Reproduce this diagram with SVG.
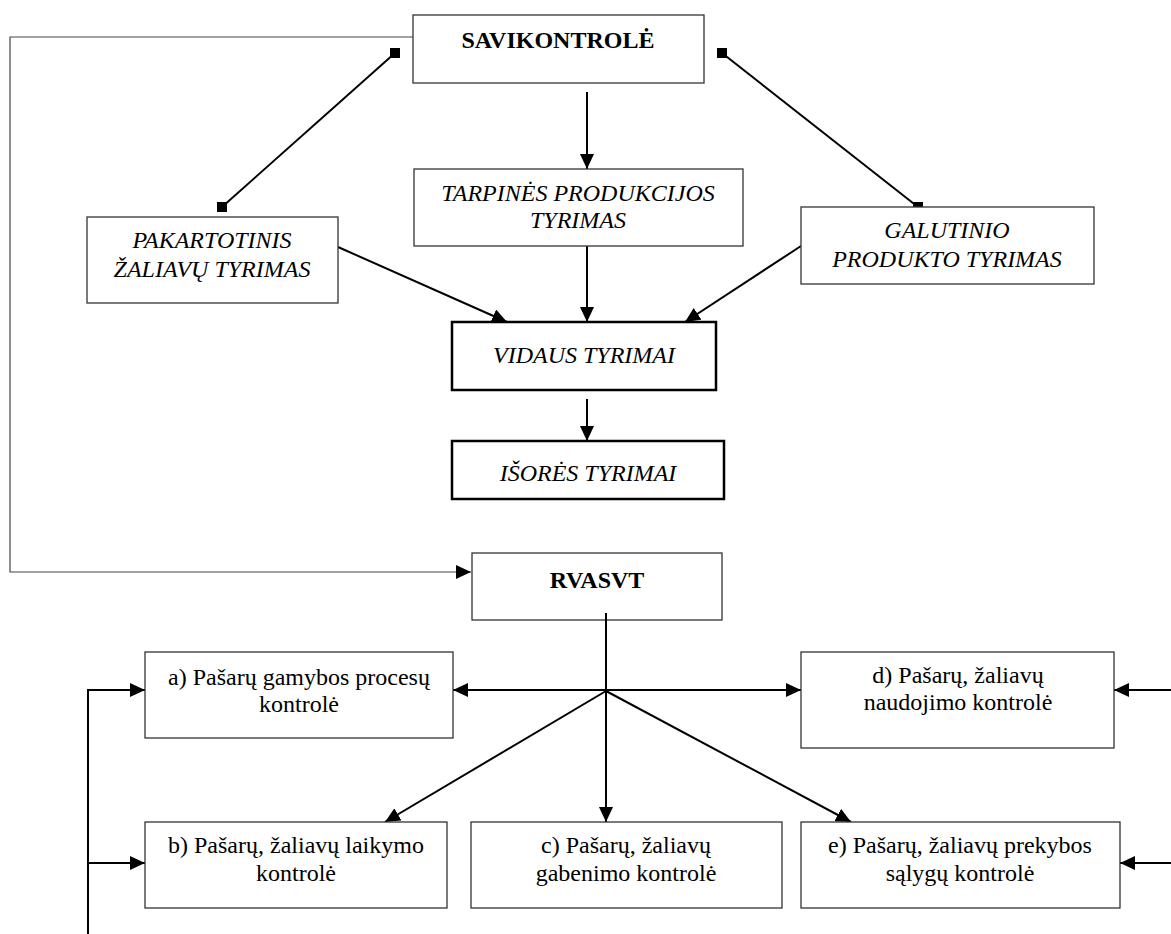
<svg xmlns="http://www.w3.org/2000/svg" width="1171" height="934" viewBox="0 0 1171 934">
<style>
.box{fill:#fff;stroke:#333;stroke-width:1.3}
.thick{fill:#fff;stroke:#000;stroke-width:2.5}
.t{font-family:"Liberation Serif",serif;font-size:24px;fill:#000;text-anchor:middle}
.i{font-style:italic}
.b{font-weight:bold}
.c{fill:none;stroke:#000;stroke-width:2}
.thin{fill:none;stroke:#444;stroke-width:1.2}
</style>
<defs>
<marker id="ah" markerUnits="userSpaceOnUse" markerWidth="16" markerHeight="14" refX="15" refY="7" orient="auto">
<path d="M0,0 L15,7 L0,14 Z" fill="#000"/>
</marker>
<marker id="sq" markerUnits="userSpaceOnUse" markerWidth="12" markerHeight="12" refX="6" refY="6" orient="0">
<rect x="1" y="1" width="10" height="10" fill="#000"/>
</marker>
</defs>
<g id="connectors">
<polyline class="thin" points="413,37 10,37 10,572 471,572" marker-end="url(#ah)"/>
<line class="c" x1="395" y1="53" x2="222" y2="207" marker-start="url(#sq)" marker-end="url(#sq)"/>
<line class="c" x1="722" y1="53" x2="918" y2="207" marker-start="url(#sq)" marker-end="url(#sq)"/>
<line class="c" x1="587" y1="92" x2="587" y2="169" marker-end="url(#ah)"/>
<line class="c" x1="338" y1="247" x2="507" y2="322" marker-end="url(#ah)"/>
<line class="c" x1="587" y1="246" x2="587" y2="322" marker-end="url(#ah)"/>
<line class="c" x1="801" y1="246" x2="685" y2="322" marker-end="url(#ah)"/>
<line class="c" x1="587" y1="399" x2="587" y2="441" marker-end="url(#ah)"/>
<line class="c" x1="606" y1="613" x2="606" y2="691"/>
<line class="c" x1="606" y1="690" x2="453" y2="690" marker-end="url(#ah)"/>
<line class="c" x1="606" y1="690" x2="801" y2="690" marker-end="url(#ah)"/>
<line class="c" x1="606" y1="691" x2="385" y2="822" marker-end="url(#ah)"/>
<line class="c" x1="606" y1="691" x2="606" y2="822" marker-end="url(#ah)"/>
<line class="c" x1="606" y1="691" x2="851" y2="822" marker-end="url(#ah)"/>
<line class="c" x1="1171" y1="690" x2="1114" y2="690" marker-end="url(#ah)"/>
<line class="c" x1="1171" y1="863" x2="1120" y2="863" marker-end="url(#ah)"/>
<polyline class="c" points="88,934 88,690 145,690" marker-end="url(#ah)"/>
<line class="c" x1="88" y1="863" x2="145" y2="863" marker-end="url(#ah)"/>
</g>
<g id="savikontrole">
<rect class="box" x="413" y="15" width="291" height="68"/>
<text class="t b" x="558" y="48">SAVIKONTROLĖ</text>
</g>
<g id="tarpines">
<rect class="box" x="414" y="169" width="329" height="77"/>
<text class="t i" x="578" y="201">TARPINĖS PRODUKCIJOS</text>
<text class="t i" x="578" y="228">TYRIMAS</text>
</g>
<g id="pakartotinis">
<rect class="box" x="87" y="217" width="251" height="86"/>
<text class="t i" x="212" y="248">PAKARTOTINIS</text>
<text class="t i" x="212" y="277">ŽALIAVŲ TYRIMAS</text>
</g>
<g id="galutinio">
<rect class="box" x="801" y="207" width="293" height="77"/>
<text class="t i" x="947" y="238">GALUTINIO</text>
<text class="t i" x="947" y="267">PRODUKTO TYRIMAS</text>
</g>
<g id="vidaus">
<rect class="thick" x="452" y="322" width="264" height="68"/>
<text class="t i" x="584" y="363">VIDAUS TYRIMAI</text>
</g>
<g id="isores">
<rect class="thick" x="452" y="441" width="272" height="58"/>
<text class="t i" x="588" y="481">IŠORĖS TYRIMAI</text>
</g>
<g id="rvasvt">
<rect class="box" x="472" y="553" width="250" height="67"/>
<text class="t b" x="597" y="588">RVASVT</text>
</g>
<line class="c" x1="606" y1="613" x2="606" y2="622"/>
<g id="a">
<rect class="box" x="145" y="652" width="308" height="86"/>
<text class="t" x="299" y="685">a) Pašarų gamybos procesų</text>
<text class="t" x="299" y="712">kontrolė</text>
</g>
<g id="d">
<rect class="box" x="801" y="652" width="313" height="96"/>
<text class="t" x="958" y="683">d) Pašarų, žaliavų</text>
<text class="t" x="958" y="710">naudojimo kontrolė</text>
</g>
<g id="b">
<rect class="box" x="145" y="822" width="302" height="86"/>
<text class="t" x="296" y="853">b) Pašarų, žaliavų laikymo</text>
<text class="t" x="296" y="881">kontrolė</text>
</g>
<g id="c">
<rect class="box" x="471" y="822" width="311" height="86"/>
<text class="t" x="626" y="853">c) Pašarų, žaliavų</text>
<text class="t" x="626" y="881">gabenimo kontrolė</text>
</g>
<g id="e">
<rect class="box" x="801" y="822" width="319" height="86"/>
<text class="t" x="960" y="853">e) Pašarų, žaliavų prekybos</text>
<text class="t" x="960" y="881">sąlygų kontrolė</text>
</g>
</svg>
